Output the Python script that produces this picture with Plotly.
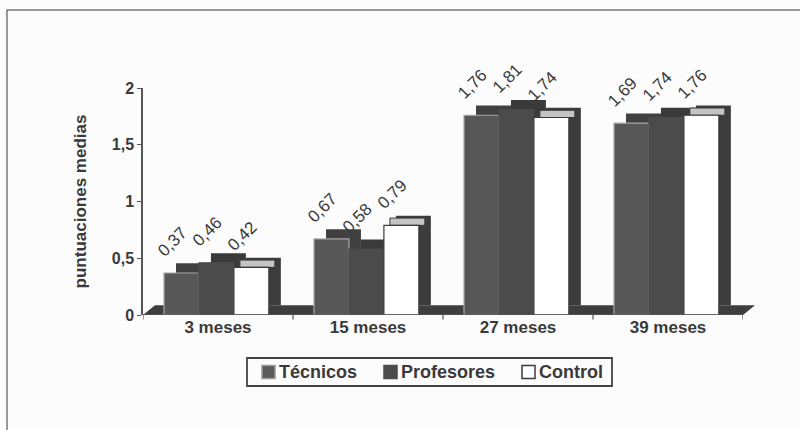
import plotly.graph_objects as go

categories = ["3 meses", "15 meses", "27 meses", "39 meses"]
tecnicos = [0.37, 0.67, 1.76, 1.69]
profesores = [0.46, 0.58, 1.81, 1.74]
control = [0.42, 0.79, 1.74, 1.76]
series_names = ["Técnicos", "Profesores", "Control"]
y_ticks = [0, 0.5, 1, 1.5, 2]

FONT = "Arial, Liberation Sans, sans-serif"
TXT = "#3a3a3a"
W = 0.233          # bar width (category units)
DX = 0.08          # 3d depth, horizontal (category units)
DY = 0.085         # 3d depth, vertical (value units)
offsets = [-0.36, -0.127, 0.106]
front_cols = ["#575757", "#4b4b4b", "#ffffff"]
front_lines = ["#a8a8a8", "#4b4b4b", "#3a3a3a"]
depth_cols = ["#404040", "#3a3a3a", "#3c3c3c"]
all_series = [tecnicos, profesores, control]

fig = go.Figure()
x_idx = list(range(len(categories)))
for name, vals, off, fc, lc, dc in zip(series_names, all_series,
                                       offsets, front_cols, front_lines, depth_cols):
    # depth (top + side) silhouette
    fig.add_trace(go.Bar(
        x=x_idx, y=vals, base=[DY] * len(vals), offset=off + DX, width=W,
        marker=dict(color=dc, line=dict(width=0)), showlegend=False, hoverinfo="skip"))
    if name == "Control":
        # light top face
        fig.add_trace(go.Bar(
            x=x_idx, y=[DY * 0.75] * len(vals), base=vals, offset=off + DX * 0.5, width=W,
            marker=dict(color="#c4c4c4", line=dict(color="#3a3a3a", width=1)),
            showlegend=False, hoverinfo="skip"))
    fig.add_trace(go.Bar(
        x=x_idx, y=vals, offset=off, width=W, name=name, showlegend=False,
        marker=dict(color=fc, line=dict(color=lc, width=1.2))))

# value labels, drawn last so no bar covers them
for vals, off in zip(all_series, offsets):
    fig.add_trace(go.Bar(
        x=x_idx, y=vals, base=[DY] * len(vals), offset=off - 0.06, width=W,
        marker=dict(color="rgba(0,0,0,0)", line=dict(width=0)),
        text=[f"{v:.2f}".replace(".", ",") for v in vals],
        textposition="outside", textangle=-45, cliponaxis=False,
        textfont=dict(family=FONT, size=17, color=TXT),
        showlegend=False, hoverinfo="skip"))

# plot area in pixels: x 143..743, y 88..315
def px(x):
    return (x - 143) / 600.0

def py(y):
    return (315 - y) / 227.0

shapes = [
    # floor
    dict(type="path", xref="paper", yref="y", layer="below",
         path=f"M 0,0 L 1,0 L 1.02,{DY} L 0.02,{DY} Z",
         fillcolor="#3e3e3e", line=dict(width=0)),
    # x axis line
    dict(type="line", xref="paper", yref="y", x0=0, x1=1, y0=0, y1=0,
         line=dict(color="#555", width=1.5)),
    # outer frame
    dict(type="rect", xref="paper", yref="paper", x0=px(7), x1=px(900), y0=py(500), y1=py(10),
         line=dict(color="#777", width=1.5), fillcolor="rgba(0,0,0,0)"),
    # legend box
    dict(type="rect", xref="paper", yref="paper", x0=px(247), x1=px(612), y0=py(386), y1=py(358),
         line=dict(color="#444", width=1.8), fillcolor="rgba(0,0,0,0)"),
]
annotations = []
legend_sq_x = [262, 384, 522]
legend_fill = ["#5a5a5a", "#4b4b4b", "#ffffff"]
legend_line = ["#9a9a9a", "#4b4b4b", "#3a3a3a"]
for name, sx, f, l in zip(series_names, legend_sq_x, legend_fill, legend_line):
    shapes.append(dict(type="rect", xref="paper", yref="paper",
                       x0=px(sx), x1=px(sx + 13), y0=py(378.5), y1=py(365.5),
                       fillcolor=f, line=dict(color=l, width=1.5)))
    annotations.append(dict(xref="paper", yref="paper", x=px(sx + 15), y=py(372),
                            xanchor="left", yanchor="middle", showarrow=False, text=name,
                            font=dict(family=FONT, size=18, color=TXT, weight="bold")))
for i in range(len(categories) + 1):
    shapes.append(dict(type="line", xref="x", yref="paper", x0=i - 0.5, x1=i - 0.5,
                       y0=0, y1=-0.02, line=dict(color="#555", width=1.2)))

fig.update_layout(
    width=800, height=430,
    margin=dict(l=143, r=57, t=88, b=115),
    barmode="overlay",
    separators=",.",
    paper_bgcolor="#fcfcfc", plot_bgcolor="rgba(0,0,0,0)",
    font=dict(family=FONT, color=TXT),
    showlegend=False,
    xaxis=dict(tickmode="array", tickvals=x_idx, ticktext=categories, range=[-0.5, 3.5],
               showgrid=False, zeroline=False, showline=False, ticks="",
               tickfont=dict(family=FONT, size=17, color=TXT, weight="bold")),
    yaxis=dict(range=[0, 2], tickvals=y_ticks, showgrid=False,
               zeroline=False, showline=True, linecolor="#555", linewidth=1.5,
               ticks="outside", ticklen=4, tickcolor="#555",
               tickfont=dict(family=FONT, size=16, color=TXT, weight="bold"),
               title=dict(text="puntuaciones medias", standoff=21,
                          font=dict(family=FONT, size=17, color=TXT, weight="bold"))),
    shapes=shapes,
    annotations=annotations,
)

fig.write_html("out.html", config={"displayModeBar": False},
               post_script="document.body.style.margin='0';")
